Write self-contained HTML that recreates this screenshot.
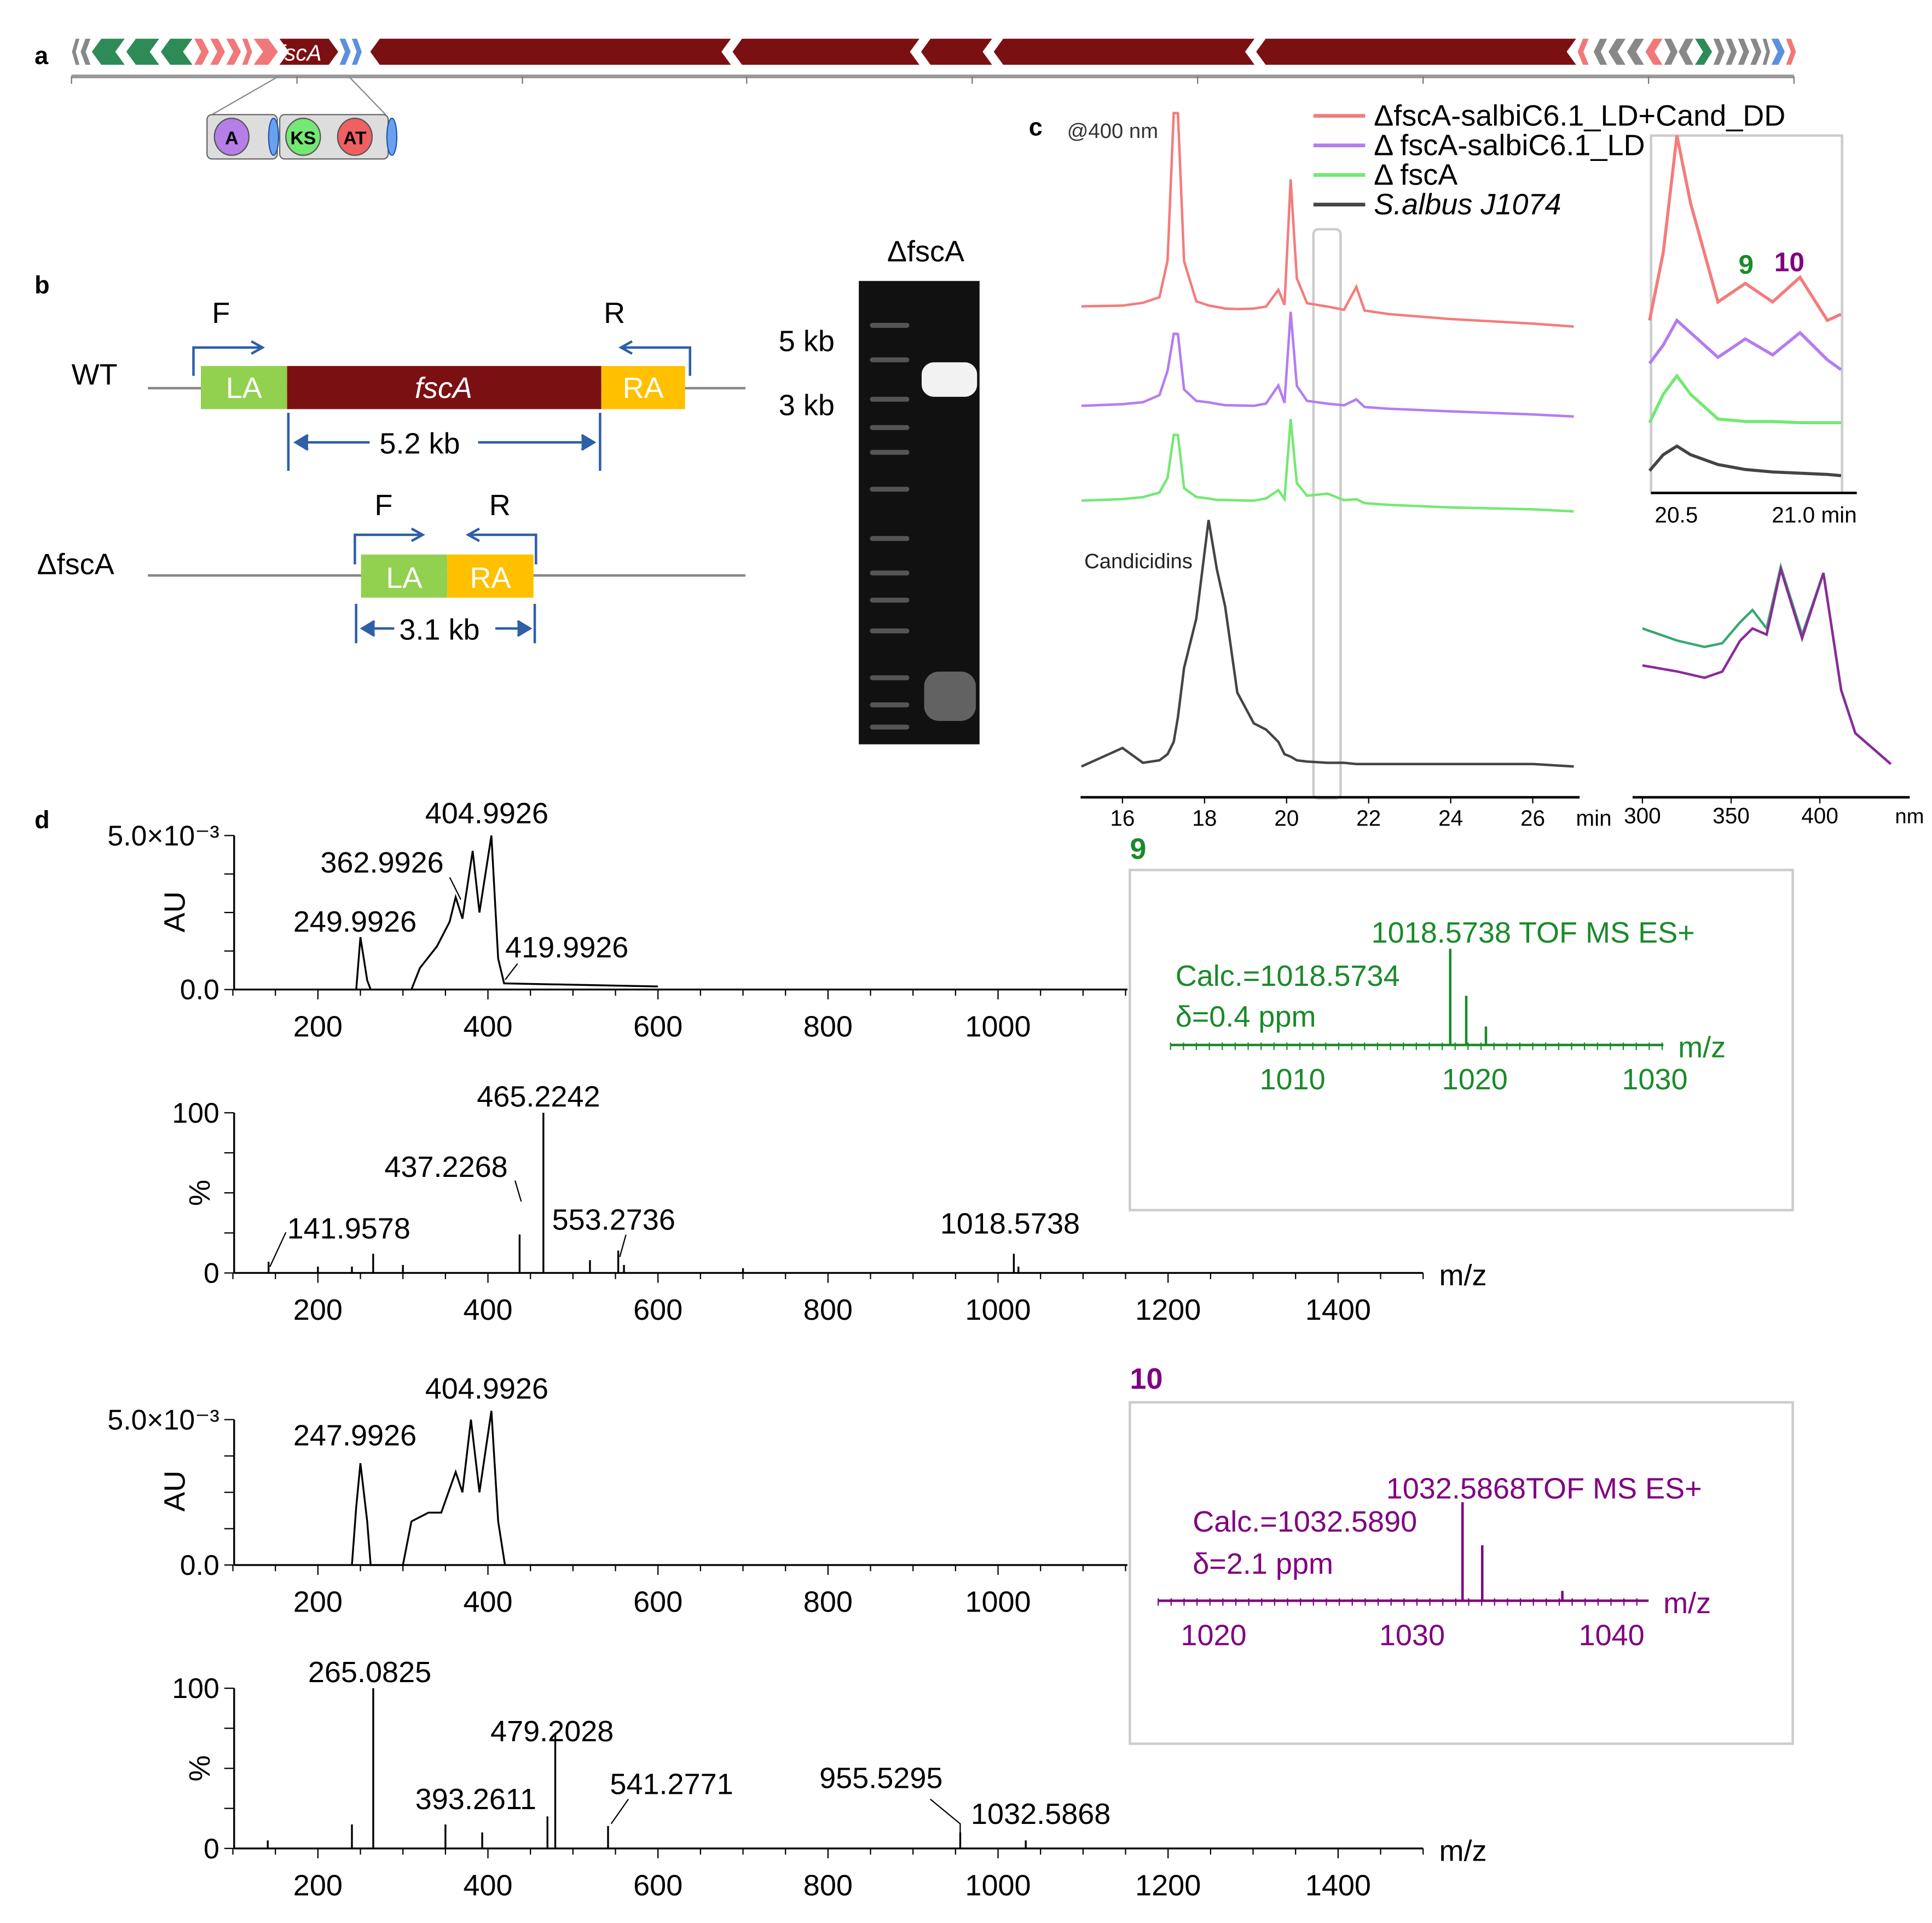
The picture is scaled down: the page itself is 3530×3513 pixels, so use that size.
<!DOCTYPE html>
<html><head><meta charset="utf-8"><style>
html,body{margin:0;padding:0;background:#fff}
svg{display:block;font-family:"Liberation Sans",sans-serif}
</style></head><body>
<svg id="fig" width="3530" height="3513" viewBox="0 0 1568 1560.5" xmlns="http://www.w3.org/2000/svg">
<g id="pa">
<text x="28" y="52" font-size="20" font-weight="bold">a</text>
<line x1="58" y1="62" x2="1456" y2="62" stroke="#999" stroke-width="3"/>
</g>
<g id="pb">
<text x="28" y="238" font-size="20" font-weight="bold">b</text>
<line x1="120" y1="315" x2="605" y2="315" stroke="#888" stroke-width="2"/>
<rect x="163" y="297" width="70" height="35" fill="#92d050"/>
<rect x="233" y="297" width="255" height="35" fill="#7b1013"/>
<rect x="488" y="297" width="68" height="35" fill="#ffc000"/>
<text x="198" y="323" font-size="24" fill="#fff" text-anchor="middle">LA</text>
<text x="360" y="323" font-size="24" fill="#fff" text-anchor="middle" font-style="italic">fscA</text>
<text x="522" y="323" font-size="24" fill="#fff" text-anchor="middle">RA</text>
<text x="58" y="312" font-size="24">WT</text>
<path d="M157 305 V282 H212 M204 277 L213 282 L204 287" stroke="#2e5fa8" stroke-width="2" fill="none"/>
<path d="M560 305 V282 H505 M513 277 L504 282 L513 287" stroke="#2e5fa8" stroke-width="2" fill="none"/>
<text x="172" y="262" font-size="24">F</text><text x="490" y="262" font-size="24">R</text>
<line x1="234" y1="335" x2="234" y2="382" stroke="#2e5fa8" stroke-width="2"/><line x1="487" y1="335" x2="487" y2="382" stroke="#2e5fa8" stroke-width="2"/>
<path d="M242 359 H300 M250 353 L240 359 L250 365 M388 359 H480 M472 353 L482 359 L472 365" stroke="#2e5fa8" stroke-width="2" fill="#2e5fa8"/>
<text x="308" y="368" font-size="24">5.2 kb</text>
<line x1="120" y1="467" x2="605" y2="467" stroke="#888" stroke-width="2"/>
<rect x="293" y="450" width="70" height="35" fill="#92d050"/><rect x="363" y="450" width="70" height="35" fill="#ffc000"/>
<text x="328" y="477" font-size="24" fill="#fff" text-anchor="middle">LA</text><text x="398" y="477" font-size="24" fill="#fff" text-anchor="middle">RA</text>
<text x="30" y="466" font-size="24">ΔfscA</text>
<path d="M288 458 V434 H342 M334 429 L343 434 L334 439" stroke="#2e5fa8" stroke-width="2" fill="none"/>
<path d="M435 458 V434 H381 M389 429 L380 434 L389 439" stroke="#2e5fa8" stroke-width="2" fill="none"/>
<text x="304" y="418" font-size="24">F</text><text x="397" y="418" font-size="24">R</text>
<line x1="289" y1="490" x2="289" y2="522" stroke="#2e5fa8" stroke-width="2"/><line x1="434" y1="490" x2="434" y2="522" stroke="#2e5fa8" stroke-width="2"/>
<path d="M296 510 H320 M304 504 L294 510 L304 516 M402 510 H428 M420 504 L430 510 L420 516" stroke="#2e5fa8" stroke-width="2" fill="#2e5fa8"/>
<text x="324" y="519" font-size="24">3.1 kb</text>
<text x="720" y="212" font-size="24">ΔfscA</text>
<rect x="697" y="228" width="98" height="376" fill="#111"/>
<g id="ladder"></g>
<rect x="748" y="294" width="45" height="28" rx="10" fill="#fff" opacity="0.95"/>
<rect x="750" y="545" width="42" height="40" rx="12" fill="#999" opacity="0.6"/>
<text x="632" y="285" font-size="24">5 kb</text><text x="632" y="337" font-size="24">3 kb</text>
</g>
<g id="pc">
<text x="835" y="110" font-size="20" font-weight="bold">c</text>
<text x="866" y="112" font-size="17" fill="#333">@400 nm</text>
<text x="880" y="461" font-size="17" fill="#222">Candicidins</text>
<rect x="1066" y="186" width="22" height="462" rx="4" fill="none" stroke="#ccc" stroke-width="2"/>
<rect x="1340" y="110" width="155" height="290" fill="none" stroke="#ccc" stroke-width="2"/>
<line x1="877" y1="647" x2="1282" y2="647" stroke="#000" stroke-width="2"/>
<text x="1279" y="670" font-size="18">min</text>
<g id="chrom"></g>
<g id="legend"></g>
<line x1="1340" y1="400" x2="1507" y2="400" stroke="#000" stroke-width="2"/>
<text x="1343" y="424" font-size="18">20.5</text><text x="1438" y="424" font-size="18">21.0 min</text>
<text x="1411" y="222" font-size="22" font-weight="bold" fill="#1a8a2a">9</text>
<text x="1440" y="220" font-size="22" font-weight="bold" fill="#800080">10</text>
<g id="inset"></g>
<line x1="1325" y1="647" x2="1550" y2="647" stroke="#000" stroke-width="2"/>
<text x="1538" y="668" font-size="17">nm</text>
<g id="uvc"></g>
</g>
<g id="pd">
<text x="28" y="672" font-size="20" font-weight="bold">d</text>
<text x="917" y="697" font-size="24" font-weight="bold" fill="#1a8a2a">9</text>
<text x="917" y="1127" font-size="24" font-weight="bold" fill="#800080">10</text>
<rect x="917" y="706" width="538" height="276" fill="#fff" stroke="#ccc" stroke-width="2"/>
<rect x="917" y="1138" width="538" height="277" fill="#fff" stroke="#ccc" stroke-width="2"/>
<g id="ms"></g>
</g>
</svg>
<script>
const NS="http://www.w3.org/2000/svg";
function mk(p,t,a,txt){const e=document.createElementNS(NS,t);for(const k in a)e.setAttribute(k,a[k]);if(txt!==undefined)e.textContent=txt;p.appendChild(e);return e;}
const geneStarts=[58,65,74,102,130,157,170,183,196,205,226,275,285,300,594,747,806,1019,1280,1293,1305,1320,1335,1350,1362,1375,1390,1400,1410,1420,1430,1437,1449];
const geneEnds=[65,74,102,130,157,170,183,196,205,226,275,285,294,594,747,806,1019,1280,1290,1305,1320,1335,1350,1362,1375,1390,1400,1410,1420,1430,1437,1449,1458];
const geneDir=[-1,-1,-1,-1,-1,1,1,1,1,1,1,1,1,-1,-1,-1,-1,-1,-1,-1,-1,-1,-1,1,-1,1,1,1,1,1,1,1,1];
const geneCol=["#888","#888","#2e8b57","#2e8b57","#2e8b57","#f07878","#f07878","#f07878","#f07878","#f07878","#7b1013","#5b8fe0","#5b8fe0","#7b1013","#7b1013","#7b1013","#7b1013","#7b1013","#f07878","#888","#888","#888","#f07878","#888","#888","#2e8b57","#888","#888","#888","#888","#888","#5b8fe0","#f07878"];
const pa=document.getElementById('pa');
geneStarts.forEach((s,i)=>{const e=geneEnds[i],y0=31,y1=53,m=42,h=Math.min(8,(e-s)*0.45);let pts;
 if(geneDir[i]>0)pts=`${s},${y0} ${e-h},${y0} ${e},${m} ${e-h},${y1} ${s},${y1} ${s+h},${m}`;
 else pts=`${s+h},${y0} ${e},${y0} ${e-h},${m} ${e},${y1} ${s+h},${y1} ${s},${m}`;
 const p=mk(pa,'polygon',{points:pts,fill:geneCol[i],stroke:'#fff','stroke-width':0.8});
 
 });
mk(pa,'text',{x:226,y:49,'font-size':18,fill:'#fff','font-style':'italic'},'fscA');
const rulerTicks=[58,241,424,606,789,972,1155,1338,1456];
rulerTicks.forEach(x=>mk(pa,'line',{x1:x,y1:62,x2:x,y2:68,stroke:'#777','stroke-width':1}));
mk(pa,'line',{x1:226,y1:62,x2:172,y2:93,stroke:'#888'});mk(pa,'line',{x1:283,y1:62,x2:313,y2:93,stroke:'#888'});
mk(pa,'rect',{x:168,y:93,width:57,height:36,rx:4,fill:'#ddd',stroke:'#666'});
mk(pa,'rect',{x:227,y:93,width:88,height:36,rx:4,fill:'#ddd',stroke:'#666'});
[[188,'#b57ee8','A'],[246,'#74e874','KS'],[288,'#f06060','AT']].forEach(d=>{mk(pa,'ellipse',{cx:d[0],cy:111,rx:14,ry:15,fill:d[1],stroke:'#555'});mk(pa,'text',{x:d[0],y:117,'font-size':15,'font-weight':'bold','text-anchor':'middle'},d[2]);});
[222,318].forEach(x=>mk(pa,'ellipse',{cx:x,cy:111,rx:4,ry:15,fill:'#6aa0f0',stroke:'#2255aa'}));
const lad=document.getElementById('ladder');
[262,290,322,345,365,395,435,463,485,510,548,570,588].forEach(y=>mk(lad,'rect',{x:706,y:y,width:32,height:4,rx:2,fill:'#555'}));
const tMin=16,tToX=t=>911+(t-tMin)*33.3;
const cTimes=[15,16,16.5,16.9,17.1,17.25,17.35,17.5,17.8,18.1,18.3,18.5,18.8,19.2,19.5,19.8,19.95,20.1,20.25,20.5,21,21.4,21.7,21.9,22.5,24,26,27];
const redVals=[0,2,5,10,40,160,160,40,8,5,4,3,3,4,6,20,8,110,30,10,8,6,25,6,4,2,1,0];
const purVals=[0,2,4,10,30,60,60,15,6,5,4,3,3,3,5,20,6,80,20,8,6,5,10,4,3,2,1,0];
const grnVals=[0,2,4,8,20,55,55,12,5,4,3,3,3,3,5,12,5,70,18,8,10,5,6,3,2,1,1,0];
const blkVals=[0,15,3,5,10,20,40,80,120,200,160,130,60,35,30,20,10,8,5,4,3,3,2,2,2,2,2,0];
const chromBase=[265,338,415,622];
const chromCols=["#f47c7c","#b57cf0","#74e874","#444"];
const chromNames=["trace-red","trace-purple","trace-green","trace-black"];
const chrom=document.getElementById('chrom');
[redVals,purVals,grnVals,blkVals].forEach((v,k)=>{const slope=k==0?-15:k==1?-8:k==2?-8:0;
 const pts=cTimes.map((t,i)=>`${tToX(t).toFixed(1)},${(chromBase[k]+slope*(27-t)/11-v[i]).toFixed(1)}`).join(' ');
 const p=mk(chrom,'polyline',{points:pts,fill:'none',stroke:chromCols[k],'stroke-width':2});
 
 });
const cTicks=[16,18,20,22,24,26];
cTicks.forEach(t=>{mk(chrom,'line',{x1:tToX(t),y1:647,x2:tToX(t),y2:652,stroke:'#000'});mk(chrom,'text',{x:tToX(t),y:670,'font-size':18,'text-anchor':'middle'},t);});
const legNames=["ΔfscA-salbiC6.1_LD+Cand_DD","Δ fscA-salbiC6.1_LD","Δ fscA","S.albus  J1074"];
const lg=document.getElementById('legend');
legNames.forEach((n,i)=>{const y=94+i*24;mk(lg,'line',{x1:1066,y1:y,x2:1108,y2:y,stroke:chromCols[i],'stroke-width':3});
 const t=mk(lg,'text',{x:1115,y:y+8,'font-size':24,'font-style':i==3?'italic':'normal'},n);
 
 });
const iTimes=[20.4,20.45,20.5,20.55,20.65,20.75,20.85,20.95,21.05,21.1];
const iRed=[5,60,155,100,20,35,20,40,5,10];
const iPur=[5,20,40,30,10,25,12,30,8,0];
const iGrn=[2,25,40,25,5,3,3,2,2,2];
const iBlk=[5,18,25,18,10,6,4,3,2,1];
const iBase=[265,300,345,387];
const ix=t=>1361+(t-20.5)*222;
const ins=document.getElementById('inset');
[iRed,iPur,iGrn,iBlk].forEach((v,k)=>{const pts=iTimes.map((t,i)=>`${ix(t).toFixed(1)},${iBase[k]-v[i]}`).join(' ');mk(ins,'polyline',{points:pts,fill:'none',stroke:chromCols[k],'stroke-width':2.5});});
const uvW=[300,320,335,345,355,362,370,378,390,402,412,420,440];
const uvGreen=[120,110,105,108,125,135,120,170,115,165,70,35,10];
const uvPurple=[90,85,80,85,110,120,115,168,112,165,70,35,10];
const wx=w=>1333+(w-300)*1.44;
const uvc=document.getElementById('uvc');
[[uvGreen,'#3aa870'],[uvPurple,'#8a2a9a']].forEach(d=>{const pts=uvW.map((w,i)=>`${wx(w).toFixed(1)},${630-d[0][i]}`).join(' ');mk(uvc,'polyline',{points:pts,fill:'none',stroke:d[1],'stroke-width':2});});
[300,350,400].forEach(w=>{mk(uvc,'line',{x1:wx(w),y1:647,x2:wx(w),y2:652,stroke:'#000'});mk(uvc,'text',{x:wx(w),y:668,'font-size':18,'text-anchor':'middle'},w);});
const ms=document.getElementById('ms');
const mzToX=m=>258+(m-200)*0.69;
const uv1W=[200,245,250,258,262,310,320,340,355,362,370,382,390,404,412,419,600];
const uv1A=[0,0,1.7,0.3,0,0,0.7,1.4,2.2,3.0,2.3,4.5,2.5,5.0,1.0,0.2,0.1];
const uv2W=[240,245,250,258,262,300,310,330,345,362,370,380,390,404,412,420];
const uv2A=[0,2.0,3.5,1.5,0,0,1.5,1.8,1.8,3.2,2.5,5.0,2.5,5.3,1.5,0];
const ms1M=[141.96,200,240,265,300,437.23,465.22,520,553.27,560,700,1018.57,1024];
const ms1I=[7,4,4,12,5,24,100,8,14,5,3,12,4];
const ms2M=[141,240,265.08,350,393.26,479.2,470,541.28,955.53,1032.59];
const ms2I=[5,15,100,15,10,72,20,14,10,5];
function axisY(top,bot,labels,lab,unit){mk(ms,'line',{x1:190,y1:top,x2:190,y2:bot,stroke:'#000','stroke-width':1.5});
 labels.forEach((l,i)=>{const y=bot-(bot-top)*i/(labels.length-1);mk(ms,'line',{x1:182,y1:y,x2:190,y2:y,stroke:'#000'});if(l)mk(ms,'text',{x:178,y:y+8,'font-size':23,'text-anchor':'end'},l);});
 mk(ms,'text',{x:0,y:0,'font-size':24,transform:`translate(${lab[0]},${lab[1]}) rotate(-90)`,'text-anchor':'middle'},unit);}
function axisX(y,xEnd,ticks){mk(ms,'line',{x1:190,y1:y,x2:xEnd,y2:y,stroke:'#000','stroke-width':1.5});
 for(let m=100;mzToX(m)<=xEnd;m+=50)mk(ms,'line',{x1:mzToX(m),y1:y,x2:mzToX(m),y2:y+(m%200==0?8:5),stroke:'#000'});
 ticks.forEach(m=>mk(ms,'text',{x:mzToX(m),y:y+38,'font-size':24,'text-anchor':'middle'},m));}
function uvTrace(W,A,bot,top,name){const pts=W.map((w,i)=>`${mzToX(w).toFixed(1)},${(bot-A[i]/5*(bot-top)).toFixed(1)}`).join(' ');const p=mk(ms,'polyline',{points:pts,fill:'none',stroke:'#000','stroke-width':1.5});}
function sticks(M,I,bot,top,name){M.forEach((m,i)=>{const l=mk(ms,'line',{x1:mzToX(m),y1:bot,x2:mzToX(m),y2:bot-I[i]/100*(bot-top),stroke:'#000','stroke-width':1.5});});}
function leader(pts){mk(ms,'polyline',{points:pts,fill:'none',stroke:'#000','stroke-width':1});}
axisY(678,803,['0.0','','','','5.0×10⁻³'],[150,740],'AU');axisX(803,915,[200,400,600,800,1000]);uvTrace(uv1W,uv1A,803,678,'uv-trace-9');
[["404.9926",345,668],["362.9926",260,708],["249.9926",238,756],["419.9926",410,777]].forEach(d=>mk(ms,'text',{x:d[1],y:d[2],'font-size':24},d[0]));
leader('365,712 374,730');leader('410,795 420,782');
axisY(903,1033,['0','','','','100'],[170,968],'%');axisX(1033,1155,[200,400,600,800,1000,1200,1400]);sticks(ms1M,ms1I,1033,903,'ms-peak-9');
mk(ms,'text',{x:1168,y:1043,'font-size':24},'m/z');
[["465.2242",387,898],["437.2268",312,955],["141.9578",233,1005],["553.2736",448,998],["1018.5738",763,1001]].forEach(d=>mk(ms,'text',{x:d[1],y:d[2],'font-size':24},d[0]));
leader('418,958 423,975');leader('219,1028 232,1000');leader('503,1020 508,1002');
axisY(1152,1270,['0.0','','','','5.0×10⁻³'],[150,1210],'AU');axisX(1270,915,[200,400,600,800,1000]);uvTrace(uv2W,uv2A,1270,1152,'uv-trace-10');
[["404.9926",345,1135],["247.9926",238,1173]].forEach(d=>mk(ms,'text',{x:d[1],y:d[2],'font-size':24},d[0]));
axisY(1370,1500,['0','','','','100'],[170,1435],'%');axisX(1500,1155,[200,400,600,800,1000,1200,1400]);sticks(ms2M,ms2I,1500,1370,'ms-peak-10');
mk(ms,'text',{x:1168,y:1510,'font-size':24},'m/z');
[["265.0825",250,1365],["479.2028",398,1413],["393.2611",337,1468],["541.2771",495,1456],["955.5295",665,1451],["1032.5868",788,1480]].forEach(d=>mk(ms,'text',{x:d[1],y:d[2],'font-size':24},d[0]));
leader(`${mzToX(955.5)},1500 ${mzToX(955.5)},1480 755,1460`);leader('496,1480 510,1460');
function inset(col,x0,x1,y,ticks,tickX,peaks,pI,texts){mk(ms,'line',{x1:x0,y1:y,x2:x1,y2:y,stroke:col,'stroke-width':2});
 for(let x=x0;x<x1;x+=10.5)mk(ms,'line',{x1:x,y1:y-2,x2:x,y2:y+4,stroke:col});
 ticks.forEach((t,i)=>mk(ms,'text',{x:tickX[i],y:y+36,'font-size':24,fill:col,'text-anchor':'middle'},t));
 peaks.forEach((p,i)=>{const l=mk(ms,'line',{x1:p,y1:y,x2:p,y2:y-pI[i],stroke:col,'stroke-width':2});});
 texts.forEach(d=>mk(ms,'text',{x:d[1],y:d[2],'font-size':24,fill:col},d[0]));}
const ins9Ticks=[1010,1020,1030],ins9I=[78,40,15];
inset('#1a8a2a',950,1350,848,ins9Ticks,[1049,1197,1343],[1177,1190,1206],ins9I,[["1018.5738  TOF MS ES+",1113,765],["Calc.=1018.5734",954,800],["δ=0.4 ppm",954,833],["m/z",1362,858]]);
const ins10Ticks=[1020,1030,1040],ins10I=[80,45,8];
inset('#800080',940,1338,1299,ins10Ticks,[985,1146,1308],[1187,1203,1268],ins10I,[["1032.5868TOF MS ES+",1125,1216],["Calc.=1032.5890",968,1243],["δ=2.1 ppm",968,1277],["m/z",1350,1309]]);
</script>
</body></html>
